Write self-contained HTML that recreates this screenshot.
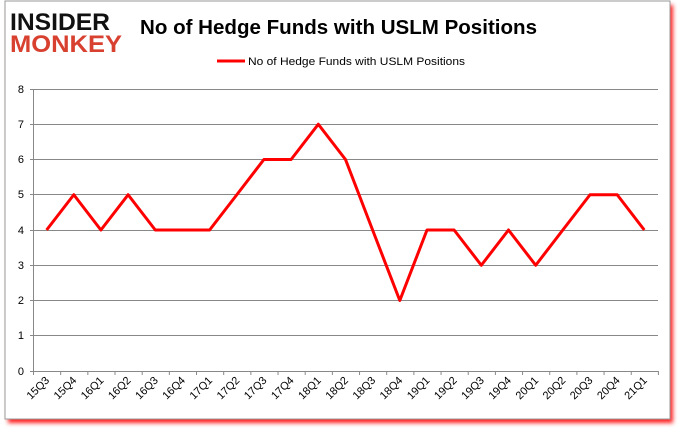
<!DOCTYPE html>
<html><head><style>body{margin:0;background:#fff}svg{display:block}</style></head><body>
<svg width="678" height="431" xmlns="http://www.w3.org/2000/svg" font-family="Liberation Sans, sans-serif">
<defs><filter id="s" x="-5%" y="-5%" width="110%" height="110%"><feGaussianBlur stdDeviation="2"/></filter></defs>
<rect x="8" y="5" width="665" height="418" fill="#f22" filter="url(#s)"/>
<rect x="5" y="1" width="665" height="418" fill="#fff" stroke="#999" stroke-width="1"/>
<text x="10" y="30" font-size="24" font-weight="bold" fill="#111" textLength="100" lengthAdjust="spacingAndGlyphs">INSIDER</text>
<text x="10" y="52" font-size="24" font-weight="bold" fill="#d84030" textLength="112" lengthAdjust="spacingAndGlyphs">MONKEY</text>
<text x="140" y="34" font-size="20.5" font-weight="bold" fill="#000" textLength="397" lengthAdjust="spacingAndGlyphs">No of Hedge Funds with USLM Positions</text>
<line x1="217" y1="61" x2="245" y2="61" stroke="#f00" stroke-width="3"/>
<text x="248" y="65" font-size="11" fill="#000" textLength="217" lengthAdjust="spacingAndGlyphs">No of Hedge Funds with USLM Positions</text>
<g stroke="#888" stroke-width="1">
<line x1="30" y1="89.5" x2="658" y2="89.5"/><line x1="30" y1="124.5" x2="658" y2="124.5"/><line x1="30" y1="159.5" x2="658" y2="159.5"/><line x1="30" y1="194.5" x2="658" y2="194.5"/><line x1="30" y1="230.5" x2="658" y2="230.5"/><line x1="30" y1="265.5" x2="658" y2="265.5"/><line x1="30" y1="300.5" x2="658" y2="300.5"/><line x1="30" y1="335.5" x2="658" y2="335.5"/><line x1="30" y1="371.5" x2="658" y2="371.5"/>
<line x1="33.5" y1="89" x2="33.5" y2="375"/>
</g>
<g stroke="#888" id="t"></g>
<g font-size="11" fill="#000" text-anchor="end">
<text x="24" y="93">8</text><text x="24" y="128">7</text><text x="24" y="163">6</text><text x="24" y="198">5</text><text x="24" y="234">4</text><text x="24" y="269">3</text><text x="24" y="304">2</text><text x="24" y="339">1</text><text x="24" y="375">0</text>
</g>
<g id="xl" font-size="11" fill="#000" text-anchor="end"></g>
<polyline fill="none" stroke="#f00" stroke-width="3" stroke-linejoin="round" points="46.6,230 73.8,194.75 100.9,230 128.1,194.75 155.3,230 182.4,230 209.6,230 236.8,194.75 263.9,159.5 291.1,159.5 318.3,124.25 345.5,159.5 372.6,230 399.8,300.5 427,230 454.1,230 481.3,265.25 508.5,230 535.7,265.25 562.8,230 590,194.75 617.2,194.75 644.3,230"/>
</svg>
<script>
var L=["15Q3","15Q4","16Q1","16Q2","16Q3","16Q4","17Q1","17Q2","17Q3","17Q4","18Q1","18Q2","18Q3","18Q4","19Q1","19Q2","19Q3","19Q4","20Q1","20Q2","20Q3","20Q4","21Q1"];
var ns="http://www.w3.org/2000/svg",t=document.getElementById("t"),xl=document.getElementById("xl");
for(var i=0;i<=23;i++){var x=33.5+27.17*i;var l=document.createElementNS(ns,"line");l.setAttribute("x1",x);l.setAttribute("x2",x);l.setAttribute("y1",371);l.setAttribute("y2",375);t.appendChild(l);}
L.forEach(function(s,i){var x=50+27.17*i,y=381;var e=document.createElementNS(ns,"text");e.setAttribute("x",x);e.setAttribute("y",y);e.setAttribute("transform","rotate(-45 "+x+" "+y+")");e.textContent=s;xl.appendChild(e);});
</script>
</body></html>
